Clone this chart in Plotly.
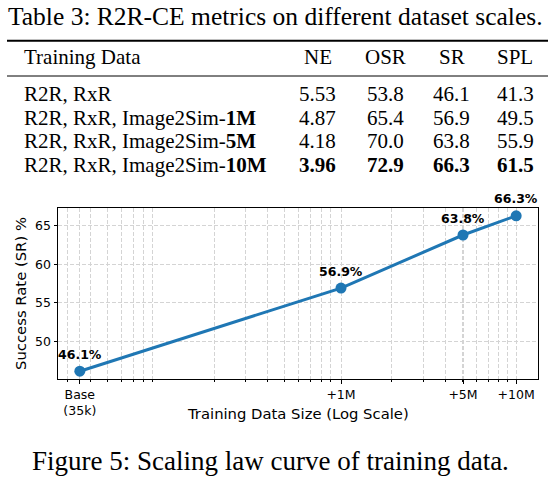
import numpy as np
import plotly.graph_objects as go

# table 3 data
TRAINING_DATA = ["R2R, RxR", "R2R, RxR, Image2Sim-1M",
                 "R2R, RxR, Image2Sim-5M", "R2R, RxR, Image2Sim-10M"]
METRICS = ["NE", "OSR", "SR", "SPL"]
NE = [5.53, 4.87, 4.18, 3.96]
OSR = [53.8, 65.4, 70.0, 72.9]
SR = [46.1, 56.9, 63.8, 66.3]
SPL = [41.3, 49.5, 55.9, 61.5]

# figure 5 data: base set + extra Image2Sim samples
BASE_SIZE = 35_000
ADDED = [0, 1_000_000, 5_000_000, 10_000_000]
TICK_TEXT = ["Base<br>(35k)", "+1M", "+5M", "+10M"]
Y_TICKS = [50, 55, 60, 65]

W, H = 550, 479
L, R, T, B = 58, 12, 208, 100
SERIF = "Liberation Serif"
SANS = "DejaVu Sans"


def px(x, y):
    """pixel position on the page -> paper coords of the plot area"""
    return (x - L) / (W - L - R), (H - B - y) / (H - T - B)


def note(x, y, text, font, xanchor="center"):
    a, b = px(x, y)
    return dict(x=a, y=b, xref="paper", yref="paper", text=text, font=font,
                showarrow=False, xanchor=xanchor, yanchor="middle")


def label_html(s):
    if "-" in s:
        head, tail = s.rsplit("-", 1)
        return f"{head}-<b>{tail}</b>"
    return s


x = [BASE_SIZE + a for a in ADDED]

lo, hi = np.log10(min(x)), np.log10(max(x))
pad = 0.05 * (hi - lo)
xrange = [lo - pad, hi + pad]
ypad = 0.05 * (max(SR) - min(SR))
yrange = [min(SR) - ypad, max(SR) + ypad]

minor_vals = [m * 10 ** e for e in range(4, 8) for m in range(2, 10)
              if xrange[0] < np.log10(m * 10 ** e) < xrange[1]]

fig = go.Figure()
fig.add_trace(go.Scatter(
    x=x, y=SR, mode="lines+markers",
    line=dict(color="#1f77b4", width=3),
    marker=dict(color="#1f77b4", size=11),
    hoverinfo="skip", showlegend=False,
))

annotations = []
for xv, yv in zip(x, SR):
    annotations.append(dict(
        x=np.log10(xv), y=yv, xref="x", yref="y", text=f"{yv}%",
        showarrow=False, yshift=17, xanchor="center", yanchor="middle",
        font=dict(family=SANS, size=12.5, color="black", weight="bold"),
    ))

sans = dict(family=SANS, size=14.8, color="black")
# x axis title (sits level with the second line of the Base tick)
annotations.append(note(298, 413, "Training Data Size (Log Scale)", sans))

# table title and figure caption
annotations.append(note(275, 16, "Table 3: R2R-CE metrics on different dataset scales.",
                        dict(family=SERIF, size=25.5, color="black")))
annotations.append(note(270, 461, "Figure 5: Scaling law curve of training data.",
                        dict(family=SERIF, size=27, color="black")))

# table body
col_x = [317.5, 385.2, 451.5, 515.2]
row_y = [94, 117.5, 141, 164.5]
tfont = dict(family=SERIF, size=21, color="black")

annotations.append(note(22, 56.7, "Training Data", tfont, "left"))
for name, cxp in zip(METRICS, col_x):
    annotations.append(note(cxp, 56.7, name, tfont))

columns = [NE, OSR, SR, SPL]
for j, col in enumerate(columns):
    best = min(col) if METRICS[j] == "NE" else max(col)
    fmt = "{:.2f}" if METRICS[j] == "NE" else "{:.1f}"
    for i, v in enumerate(col):
        s = fmt.format(v)
        if v == best:
            s = f"<b>{s}</b>"
        annotations.append(note(col_x[j], row_y[i], s, tfont))

for i, name in enumerate(TRAINING_DATA):
    annotations.append(note(22, row_y[i], label_html(name), tfont, "left"))

shapes = []
for yy, lw in ((40.7, 2), (76, 1)):
    x0, y0 = px(7, yy)
    x1, _ = px(548, yy)
    shapes.append(dict(type="line", xref="paper", yref="paper",
                       x0=x0, x1=x1, y0=y0, y1=y0,
                       line=dict(color="black", width=lw)))

grid = dict(gridcolor="#d4d4d4", griddash="4px,2px", gridwidth=1)

fig.update_layout(
    width=W, height=H,
    margin=dict(l=L, r=R, t=T, b=B, autoexpand=False),
    paper_bgcolor="white", plot_bgcolor="white",
    annotations=annotations, shapes=shapes,
    xaxis=dict(
        type="log", range=xrange, automargin=False,
        tickmode="array", tickvals=x, ticktext=TICK_TEXT,
        ticks="outside", ticklen=3.5, tickwidth=1, tickcolor="black",
        showline=True, linecolor="black", linewidth=1, mirror=True,
        tickfont=dict(family=SANS, size=12.5, color="black"),
        showgrid=True, zeroline=False, **grid,
        minor=dict(tickvals=minor_vals, ticks="outside", ticklen=2,
                   tickcolor="black", showgrid=True, **grid),
    ),
    yaxis=dict(
        range=yrange, automargin=False, tickmode="array", tickvals=Y_TICKS,
        ticks="outside", ticklen=3.5, tickwidth=1, tickcolor="black",
        showline=True, linecolor="black", linewidth=1, mirror=True,
        tickfont=dict(family=SANS, size=12.5, color="black"),
        showgrid=True, zeroline=False, **grid,
        title=dict(text="Success Rate (SR) %", standoff=4,
                   font=dict(family=SANS, size=14.8, color="black")),
    ),
)

fig.write_html("out.html", config={"displayModeBar": False},
               post_script="document.body.style.margin = '0';")
